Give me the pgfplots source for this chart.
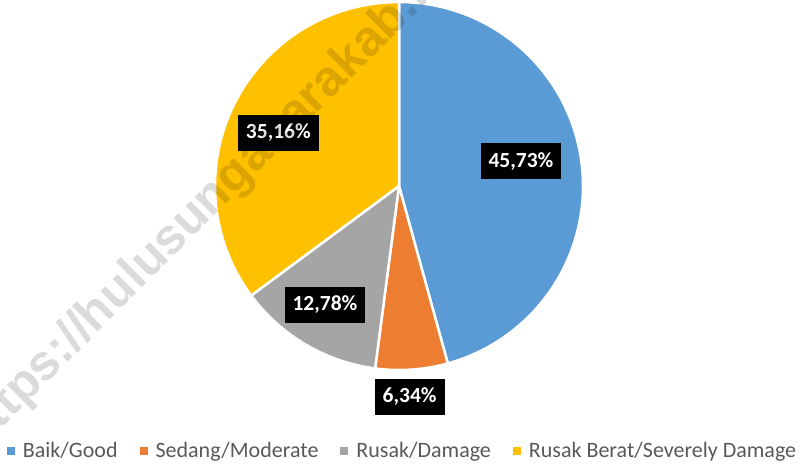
\documentclass[border=0pt]{standalone}
\usepackage{fontspec}
\setmainfont{Carlito}
\newfontfamily\wmfont{Liberation Sans}
\usepackage{pgfplots}
\pgfplotsset{compat=1.18}
\usepgfplotslibrary{polar}
\definecolor{cBlue}{HTML}{5B9BD5}
\definecolor{cOrange}{HTML}{ED7D31}
\definecolor{cGray}{HTML}{A5A5A5}
\definecolor{cYellow}{HTML}{FFC000}
\definecolor{cText}{HTML}{595959}
% shares (percent)
\def\pBaik{45.73}
\def\pSedang{6.34}
\def\pRusak{12.78}
\def\pBerat{35.16}
\pgfmathsetmacro{\aA}{90}
\pgfmathsetmacro{\aB}{\aA-3.6*\pBaik}
\pgfmathsetmacro{\aC}{\aB-3.6*\pSedang}
\pgfmathsetmacro{\aD}{\aC-3.6*\pRusak}
\pgfmathsetmacro{\aE}{\aD-3.6*\pBerat}
\begin{document}
\begin{tikzpicture}[lbl/.style={fill=black, text=white, font=\bfseries\fontsize{21.5}{24}\selectfont,
    inner xsep=8pt, minimum height=36pt, anchor=center}]
\path[use as bounding box] (0,0) rectangle (810pt,465pt);
\begin{polaraxis}[
  at={(399pt,279pt)}, anchor=origin,
  scale only axis, width=368pt, height=368pt,
  xmin=0, xmax=360, ymin=0, ymax=1,
  hide axis, clip=false,
  legend columns=4,
  legend image code/.code={\fill[#1,draw=none] (0pt,-4pt) rectangle (8pt,4pt);},
  legend style={at={(axis description cs:0.5095,-0.22)}, anchor=center,
    draw=none, fill=none, font=\fontsize{22}{26}\selectfont, text=cText,
    /tikz/every even column/.append style={column sep=20pt},
    /tikz/every odd column/.append style={column sep=6pt}},
]
\addplot[fill=cBlue, draw=white, line width=2.5pt, line join=round, domain=\aB:\aA, samples=120] {1} -- (axis cs:0,0) -- cycle;
\addlegendentry{Baik/Good}
\addplot[fill=cOrange, draw=white, line width=2.5pt, line join=round, domain=\aC:\aB, samples=30] {1} -- (axis cs:0,0) -- cycle;
\addlegendentry{Sedang/Moderate}
\addplot[fill=cGray, draw=white, line width=2.5pt, line join=round, domain=\aD:\aC, samples=50] {1} -- (axis cs:0,0) -- cycle;
\addlegendentry{Rusak/Damage}
\addplot[fill=cYellow, draw=white, line width=2.5pt, line join=round, domain=\aE:\aD, samples=100] {1} -- (axis cs:0,0) -- cycle;
\addlegendentry{Rusak Berat/Severely Damage}
\node[lbl] at (axis cs:11.4,0.676) {45,73\%};
\node[lbl] at (axis cs:-87.1,1.146) {6,34\%};
\node[lbl] at (axis cs:-121.9,0.762) {12,78\%};
\node[lbl] at (axis cs:156.1,0.717) {35,16\%};
\end{polaraxis}
\begin{scope}
\clip (0,0) rectangle (810pt,465pt);
\node[rotate=45, anchor=base west, inner sep=0pt, text=black, opacity=0.14,
  font=\wmfont\bfseries\fontsize{50}{50}\selectfont] at (-22pt,13pt) {https://hulusungaitarakab.bps.go.id};
\end{scope}
\end{tikzpicture}
\end{document}
